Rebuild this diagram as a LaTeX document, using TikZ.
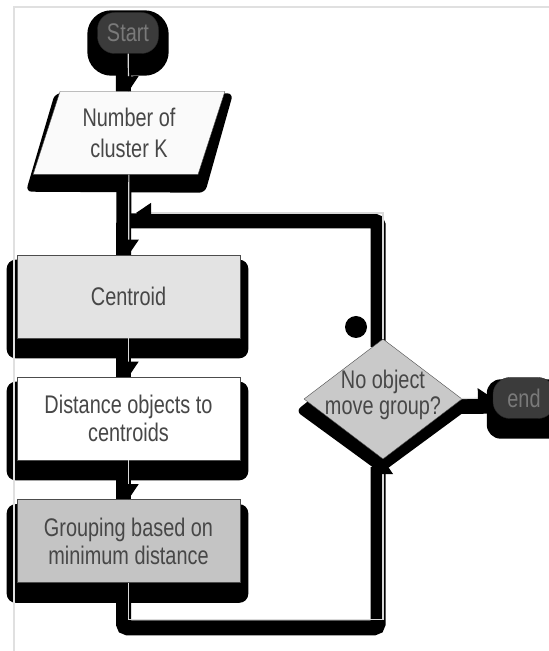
\documentclass[tikz,border=0pt]{standalone}
\usepackage{fontspec}
\setmainfont{Liberation Sans}[FakeStretch=0.78]
\usetikzlibrary{shapes.geometric,arrows.meta,backgrounds}

\tikzset{
	txt/.style={font=\fontsize{25.5pt}{28pt}\selectfont, text=black!72, align=center},
	procbox/.style={txt, draw=black!70, line width=0.6pt, minimum width=223pt, minimum height=83pt, inner sep=0pt},
	terminal/.style={txt, text=black!52, draw=black!85, fill=black!77, rounded corners=17pt, minimum height=41pt, inner sep=0pt},
	dataio/.style={txt, font=\fontsize{25.5pt}{31pt}\selectfont, trapezium, trapezium left angle=70, trapezium right angle=110, trapezium stretches=true, draw=black!70, fill=black!2, minimum width=192pt, minimum height=83pt, inner sep=0pt},
	decision/.style={diamond, draw=black!70, fill=black!21, minimum width=158pt, minimum height=120pt, inner sep=0pt},
	blackshadow/.style={fill=black},
	wire/.style={draw=black!15, line width=1.2pt, -{Triangle[length=15pt,width=20pt,color=black]}},
	wireshade/.style={draw=black, line width=15pt, rounded corners=4pt}
}

\begin{document}
\begin{tikzpicture}[x=1pt,y=1pt]
	\useasboundingbox (0,0) rectangle (549,651);
	% frame of the scanned page
	\draw[black!12, line width=2pt] (14,0) -- (14,644) -- (549,644);

	% Nodes
	\node[terminal, minimum width=61pt] (start) at (128,618) {Start};
	\node[dataio] (param) at (129,518) {Number of\\cluster K};
	\node[procbox, fill=black!11] (cen) at (128.5,354.5) {Centroid};
	\node[procbox, fill=white] (dist) at (128.5,232.5) {Distance objects to\\centroids};
	\node[procbox, fill=black!23] (grp) at (128.5,110) {Grouping based on\\minimum distance};
	\node[decision, label={[name=checktext, txt, font=\fontsize{25.5pt}{26pt}\selectfont, yshift=4pt]center:{No object\\move group?}}] (check) at (383,252) {};
	\node[terminal, minimum width=62pt] (finish) at (524,253) {end};
	\coordinate (join) at (136,438);

	% Connectors
	\draw[wire] (start) -- (param);
	\draw[wire] (param) -- (cen);
	\draw[wire] (cen) -- (dist);
	\draw[wire] (dist) -- (grp);
	\draw[wire] (grp.south) -- ++(0,-37) -| (check.south);
	\draw[wire] (check.north) |- (join);
	\draw[wire] (check) -- (finish);

	% blot beside the decision
	\fill (356,324) circle (11pt);

	% Shadows
	\begin{scope}[on background layer]
		\fill[blackshadow, rounded corners=24pt] ([xshift=-10pt,yshift=2pt]start.north west) rectangle ([xshift=10pt,yshift=-22pt]start.south east);
		\fill[blackshadow, rounded corners=6pt] ([xshift=-7pt,yshift=-17pt]param.bottom left corner) -- ([xshift=-5pt,yshift=-2pt]param.top left corner) -- ([xshift=8pt,yshift=-2pt]param.top right corner) -- ([xshift=7pt,yshift=-18pt]param.bottom right corner) -- cycle;
		\foreach \b in {cen,dist,grp}
			\fill[blackshadow, rounded corners=9pt] ([xshift=-10pt,yshift=-5pt]\b.north west) rectangle ([xshift=8pt,yshift=-20pt]\b.south east);
		\fill[blackshadow, rounded corners=6pt] ([xshift=-4pt,yshift=-6pt]check.north) -- ([xshift=-8pt,yshift=-12pt]check.west) -- ([xshift=-2pt,yshift=-14pt]check.south) -- ([xshift=6pt,yshift=-10pt]check.east) -- cycle;
		\fill[blackshadow, rounded corners=14pt] ([xshift=-6pt,yshift=-2pt]finish.north west) rectangle ([xshift=6pt,yshift=-20pt]finish.south east);
		% connector shadows
		\begin{scope}[transform canvas={xshift=-5pt,yshift=-8pt}]
			\draw[wireshade] (start) -- (param);
			\draw[wireshade] (param) -- (cen);
			\draw[wireshade] (cen) -- (dist);
			\draw[wireshade] (dist) -- (grp);
			\draw[wireshade] (grp.south) -- ++(0,-37) -| (check.south);
			\draw[wireshade] (check.north) |- (join);
			\draw[wireshade] (check) -- (finish);
		\end{scope}
	\end{scope}
\end{tikzpicture}
\end{document}
